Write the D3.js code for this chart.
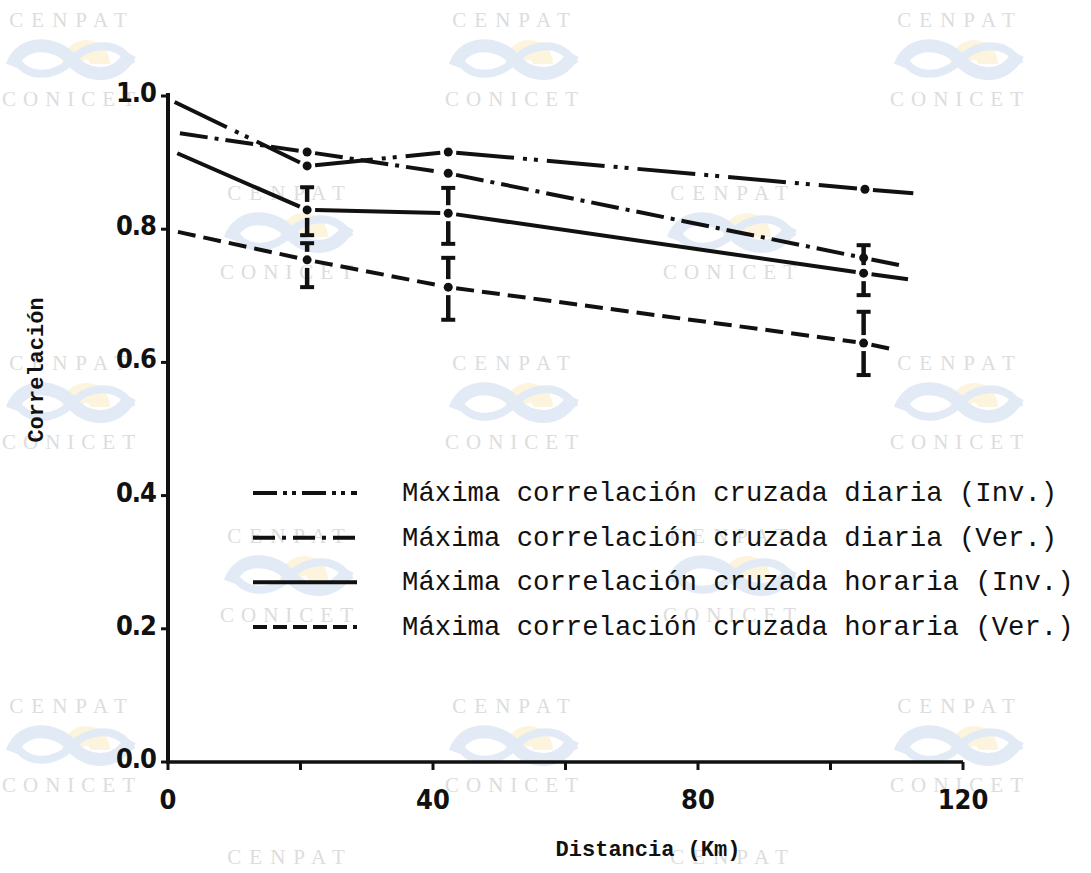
<!DOCTYPE html>
<html>
<head>
<meta charset="utf-8">
<script src="https://cdn.jsdelivr.net/npm/d3@7"></script>
<style>
  body { margin: 0; background: #fff; }
  svg { display: block; }
</style>
</head>
<body>
<svg id="chart" width="1091" height="873"></svg>
<script>
// series: [distance km, correlation]
const invDiaria = [[1, 0.991], [21, 0.895], [42.3, 0.916], [105.2, 0.860], [112.5, 0.854]];
const verDiaria = [[1.8, 0.944], [21, 0.916], [42.3, 0.884], [105, 0.757], [111, 0.745]];
const invHoraria = [[1.4, 0.914], [21, 0.829], [42.3, 0.824], [105, 0.734], [111.7, 0.725]];
const verHoraria = [[1.5, 0.796], [21, 0.754], [42.3, 0.713], [105, 0.629], [109.7, 0.619]];

// error bars: [distance, low, high]
const invHorariaErr = [[21, 0.791, 0.863], [42.3, 0.778, 0.862], [105, 0.701, 0.776]];
const verHorariaErr = [[21, 0.713, 0.779], [42.3, 0.664, 0.757], [105, 0.581, 0.676]];

const xTicks = [0, 20, 40, 60, 80, 100, 120];
const xLabels = [0, 40, 80, 120];
const yTicks = [0, 0.2, 0.4, 0.6, 0.8, 1.0];

const legendLabels = [
  "Máxima correlación cruzada diaria (Inv.)",
  "Máxima correlación cruzada diaria (Ver.)",
  "Máxima correlación cruzada horaria (Inv.)",
  "Máxima correlación cruzada horaria (Ver.)"
];

const ink = "#111";
const svg = d3.select("#chart");

// scanned page watermarks
const wmMain = [72, 515, 960];
const wmOffset = [290, 733];
const wmRows = [[20, wmMain], [193, wmOffset], [363, wmMain], [536, wmOffset], [706, wmMain], [857, wmOffset]];
const wm = svg.append("g").attr("class", "watermark");
wmRows.forEach(([cy, cols], r) => {
  cols.forEach(cx => {
    const g = wm.append("g").attr("transform", `translate(${cx},${cy})`);
    g.append("text").attr("text-anchor", "middle").attr("dy", "0.35em")
      .attr("fill", "#dddddd").attr("font-family", "'Liberation Serif', serif")
      .attr("font-size", 21).attr("letter-spacing", 8).text("CENPAT");
    if (r === wmRows.length - 1) return;
    g.append("text").attr("text-anchor", "middle").attr("y", 79).attr("dy", "0.35em")
      .attr("fill", "#dddddd").attr("font-family", "'Liberation Serif', serif")
      .attr("font-size", 21).attr("letter-spacing", 7).text("CONICET");
    // sun rays and swoosh
    const logo = g.append("g").attr("transform", "translate(0,40)");
    logo.append("path")
      .attr("d", d3.arc()({innerRadius: 4, outerRadius: 24, startAngle: -Math.PI / 2, endAngle: Math.PI / 2}))
      .attr("transform", "translate(14,4)")
      .attr("fill", "#fcf4dd");
    logo.append("path")
      .attr("d", "M-60,6 C-50,-22 -15,-18 0,0 C15,18 45,20 58,-6")
      .attr("fill", "none").attr("stroke", "#e2ebf5").attr("stroke-width", 13);
    logo.append("path")
      .attr("d", "M-58,-4 C-45,22 -15,16 0,0 C15,-16 45,-22 60,4")
      .attr("fill", "none").attr("stroke", "#e2ebf5").attr("stroke-width", 8);
  });
});

const x = d3.scaleLinear().domain([0, 120]).range([168, 963]);
const y = d3.scaleLinear().domain([0, 1]).range([762, 96]);

// axes
const axes = svg.append("g");
axes.append("line").attr("x1", x(0)).attr("x2", x(0)).attr("y1", y(1) - 3).attr("y2", y(0) + 1.5)
  .attr("stroke", ink).attr("stroke-width", 4);
axes.append("line").attr("x1", x(0) - 2).attr("x2", x(120)).attr("y1", y(0)).attr("y2", y(0))
  .attr("stroke", ink).attr("stroke-width", 3.5);

axes.selectAll(".xt").data(xTicks).join("line")
  .attr("x1", d => x(d)).attr("x2", d => x(d)).attr("y1", y(0)).attr("y2", y(0) + 8)
  .attr("stroke", ink).attr("stroke-width", 3);
axes.selectAll(".yt").data(yTicks).join("line")
  .attr("x1", x(0) - 7).attr("x2", x(0)).attr("y1", d => y(d)).attr("y2", d => y(d))
  .attr("stroke", ink).attr("stroke-width", 3);

const tickFont = "'Liberation Sans Narrow', 'DejaVu Sans Condensed', 'Roboto Condensed', sans-serif";
axes.selectAll(".xl").data(xLabels).join("text")
  .attr("x", d => x(d)).attr("y", y(0) + 47)
  .attr("text-anchor", "middle")
  .attr("font-family", tickFont).attr("font-weight", "bold").attr("font-size", 27)
  .attr("fill", ink).text(d => d);
axes.selectAll(".yl").data(yTicks).join("text")
  .attr("x", x(0) - 12).attr("y", d => y(d) + 6)
  .attr("text-anchor", "end")
  .attr("font-family", tickFont).attr("font-weight", "bold").attr("font-size", 27)
  .attr("letter-spacing", -1)
  .attr("fill", ink).text(d => d3.format(".1f")(d));

const monoFont = "'Liberation Mono', 'DejaVu Sans Mono', monospace";
svg.append("text")
  .attr("x", 648).attr("y", 856)
  .attr("text-anchor", "middle")
  .attr("font-family", monoFont).attr("font-weight", "bold").attr("font-size", 22)
  .attr("fill", ink).text("Distancia (Km)");
svg.append("text")
  .attr("transform", "translate(43,370) rotate(-90)")
  .attr("text-anchor", "middle")
  .attr("font-family", monoFont).attr("font-weight", "bold").attr("font-size", 22)
  .attr("fill", ink).text("Correlación");

// series
const series = [
  {data: invDiaria, dash: "58 9 4 7 4 9", legendDash: "24 6 4 5 4 6"},
  {data: verDiaria, dash: "28 7 4 7", legendDash: "22 7 4 7"},
  {data: invHoraria, dash: null, legendDash: null},
  {data: verHoraria, dash: "18 8", legendDash: "14 6"}
];

// shortened segments so the vertex dots stand apart like the original drawing
function segments(data) {
  const pts = data.map(d => [x(d[0]), y(d[1])]);
  const segs = [];
  for (let i = 0; i < pts.length - 1; i++) {
    const [x0, y0] = pts[i], [x1, y1] = pts[i + 1];
    const len = Math.hypot(x1 - x0, y1 - y0);
    const ux = (x1 - x0) / len, uy = (y1 - y0) / len;
    const a = i === 0 ? 0 : 8;
    const b = i + 1 === pts.length - 1 ? 0 : 8;
    segs.push([[x0 + ux * a, y0 + uy * a], [x1 - ux * b, y1 - uy * b]]);
  }
  return segs;
}

const line = d3.line();
const plot = svg.append("g");
series.forEach(s => {
  const g = plot.append("g");
  g.selectAll("path").data(segments(s.data)).join("path")
    .attr("d", d => line(d))
    .attr("fill", "none").attr("stroke", ink).attr("stroke-width", 4)
    .attr("stroke-dasharray", s.dash);
  g.selectAll("circle").data(s.data.slice(1, -1)).join("circle")
    .attr("cx", d => x(d[0])).attr("cy", d => y(d[1])).attr("r", 4.5)
    .attr("fill", ink);
});

// error bars, broken around the point
function errorBars(errs, center) {
  const g = plot.append("g").attr("stroke", ink).attr("fill", "none");
  errs.forEach((e, i) => {
    const cx = x(e[0]);
    const c = y(center[i + 1][1]);
    const top = y(e[2]), bot = y(e[1]);
    g.append("line").attr("x1", cx).attr("x2", cx).attr("y1", top).attr("y2", c - 8).attr("stroke-width", 4.5);
    g.append("line").attr("x1", cx).attr("x2", cx).attr("y1", c + 8).attr("y2", bot).attr("stroke-width", 4.5);
    g.append("line").attr("x1", cx - 7).attr("x2", cx + 7).attr("y1", top).attr("y2", top).attr("stroke-width", 4);
    g.append("line").attr("x1", cx - 7).attr("x2", cx + 7).attr("y1", bot).attr("y2", bot).attr("stroke-width", 4);
  });
}
errorBars(invHorariaErr, invHoraria);
errorBars(verHorariaErr, verHoraria);

// legend
const legendY = d3.scalePoint().domain(legendLabels).range([493, 627]);
const legend = svg.append("g");
legendLabels.forEach((label, i) => {
  const ly = legendY(label);
  legend.append("line").attr("x1", 253).attr("x2", 357).attr("y1", ly).attr("y2", ly)
    .attr("stroke", ink).attr("stroke-width", 4).attr("stroke-dasharray", series[i].legendDash);
  legend.append("text").attr("x", 402).attr("y", ly + 8)
    .attr("font-family", monoFont).attr("font-size", 27.3)
    .attr("fill", ink).text(label);
});
</script>
</body>
</html>
